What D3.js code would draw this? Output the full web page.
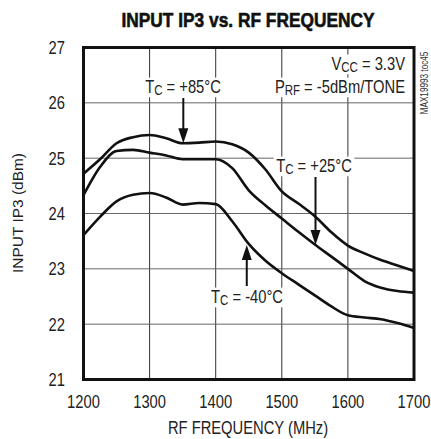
<!DOCTYPE html>
<html><head><meta charset="utf-8">
<script src="https://cdn.jsdelivr.net/npm/d3@7"></script>
<style>
html,body{margin:0;padding:0;background:#fff;}
svg{display:block;font-family:"Liberation Sans Narrow","Liberation Sans",Arial,sans-serif;}
</style></head>
<body><svg id="chart" width="431" height="439"></svg>
<script>
const freqs = [1200,1225,1250,1275,1300,1325,1350,1375,1400,1425,1450,1475,1500,1525,1550,1575,1600,1625,1650,1675,1700];
const ip3_85 = [24.72,24.98,25.27,25.38,25.42,25.36,25.27,25.28,25.30,25.25,25.10,24.80,24.40,24.18,23.95,23.66,23.42,23.28,23.16,23.06,22.96];
const ip3_25 = [24.33,24.84,25.13,25.15,25.10,25.05,24.98,24.98,24.98,24.82,24.42,24.15,23.91,23.67,23.44,23.22,23.00,22.78,22.66,22.60,22.57];
const ip3_m40 = [23.61,23.94,24.22,24.34,24.37,24.29,24.16,24.19,24.17,23.86,23.45,23.15,22.92,22.72,22.52,22.32,22.16,22.12,22.09,22.02,21.93];
const xTicks = [1200,1300,1400,1500,1600,1700];
const yTicks = [21,22,23,24,25,26,27];

const svg = d3.select("#chart");
const m = {l:83.5, r:414, t:47.5, b:379.5};
const x = d3.scaleLinear().domain([1200,1700]).range([m.l,m.r]);
const y = d3.scaleLinear().domain([21,27]).range([m.b,m.t]);
const SX = 0.82;

function ntext(px, py, anchor, size, rotate){
  const g = svg.append("g").attr("transform", `translate(${px},${py})` + (rotate?` rotate(${rotate})`:"") + ` scale(${SX},1)`);
  const t = g.append("text").attr("x",0).attr("y",0).attr("text-anchor",anchor).attr("font-size",size).attr("fill","#222");
  return {g, t};
}

// grid
svg.append("g").selectAll("line").data(xTicks.slice(1,-1)).join("line")
  .attr("x1",d=>x(d)).attr("x2",d=>x(d)).attr("y1",m.t).attr("y2",m.b)
  .attr("stroke","#333").attr("stroke-width",1);
svg.append("g").selectAll("line").data(yTicks.slice(1,-1)).join("line")
  .attr("y1",d=>y(d)).attr("y2",d=>y(d)).attr("x1",m.l).attr("x2",m.r)
  .attr("stroke","#666").attr("stroke-width",1);

// tick labels
xTicks.forEach(d=>{ ntext(x(d), 408, "middle", 18).t.text(d); });
yTicks.forEach(d=>{ ntext(65, y(d)+6.5, "end", 18).t.text(d); });

// axis titles
ntext(248, 434, "middle", 18).t.text("RF FREQUENCY (MHz)");
svg.append("text").attr("transform","translate(23,213) rotate(-90)").attr("text-anchor","middle")
  .attr("font-size",15).attr("fill","#222")
  .attr("textLength",120).attr("lengthAdjust","spacingAndGlyphs")
  .text("INPUT IP3 (dBm)");

// title
svg.append("text").attr("x",248).attr("y",27).attr("text-anchor","middle")
  .attr("font-size",20).attr("font-weight","bold").attr("fill","#111")
  .attr("textLength",253).attr("lengthAdjust","spacingAndGlyphs")
  .attr("stroke","#111").attr("stroke-width",0.6)
  .text("INPUT IP3 vs. RF FREQUENCY");

// side note
ntext(428, 83, "middle", 10, -90).t.attr("fill","#333").text("MAX19993 toc45");

// labels with white background
function label(cx, baseline, parts, anchor){
  const {g, t} = ntext(cx, baseline, anchor||"middle", 18);
  parts.forEach(p=>{
    const ts = t.append("tspan").text(p.t);
    if(p.sub){ ts.attr("font-size",14).attr("dy",2); }
    else if(p.after){ ts.attr("dy",-2); }
  });
  const bb = t.node().getBBox();
  g.insert("rect","text").attr("x",bb.x-3).attr("y",bb.y+1).attr("width",bb.width+6).attr("height",bb.height-2).attr("fill","#fff");
  return g;
}

// curves
const line = d3.line().x((d,i)=>x(freqs[i])).y(d=>y(d)).curve(d3.curveMonotoneX);
[ip3_85, ip3_25, ip3_m40].forEach(s=>{
  svg.append("path").attr("d",line(s)).attr("fill","none").attr("stroke","#111").attr("stroke-width",2.6).attr("stroke-linejoin","round");
});

label(405, 70, [{t:"V"},{t:"CC",sub:true},{t:" = 3.3V",after:true}], "end");
label(405, 93, [{t:"P"},{t:"RF",sub:true},{t:" = -5dBm/TONE",after:true}], "end");
label(183, 93, [{t:"T"},{t:"C",sub:true},{t:" = +85°C",after:true}]);
label(314, 172, [{t:"T"},{t:"C",sub:true},{t:" = +25°C",after:true}]);
label(247, 303, [{t:"T"},{t:"C",sub:true},{t:" = -40°C",after:true}]);

// arrows
function arrow(xv, y0, yv, up){
  const xt = x(xv), yt = y(yv);
  const dir = up ? 1 : -1;
  svg.append("line").attr("x1",xt).attr("x2",xt).attr("y1",y0).attr("y2",yt+dir*10)
    .attr("stroke","#111").attr("stroke-width",2);
  svg.append("path").attr("d",`M${xt},${yt} L${xt-5},${yt+dir*15} L${xt+5},${yt+dir*15} Z`).attr("fill","#111");
}
arrow(1351, 98, 25.27, false);
arrow(1551, 177, 23.43, false);
arrow(1447, 286, 23.43, true);

// frame
svg.append("rect").attr("x",m.l).attr("y",m.t).attr("width",m.r-m.l).attr("height",m.b-m.t)
  .attr("fill","none").attr("stroke","#111").attr("stroke-width",3);
</script></body></html>
